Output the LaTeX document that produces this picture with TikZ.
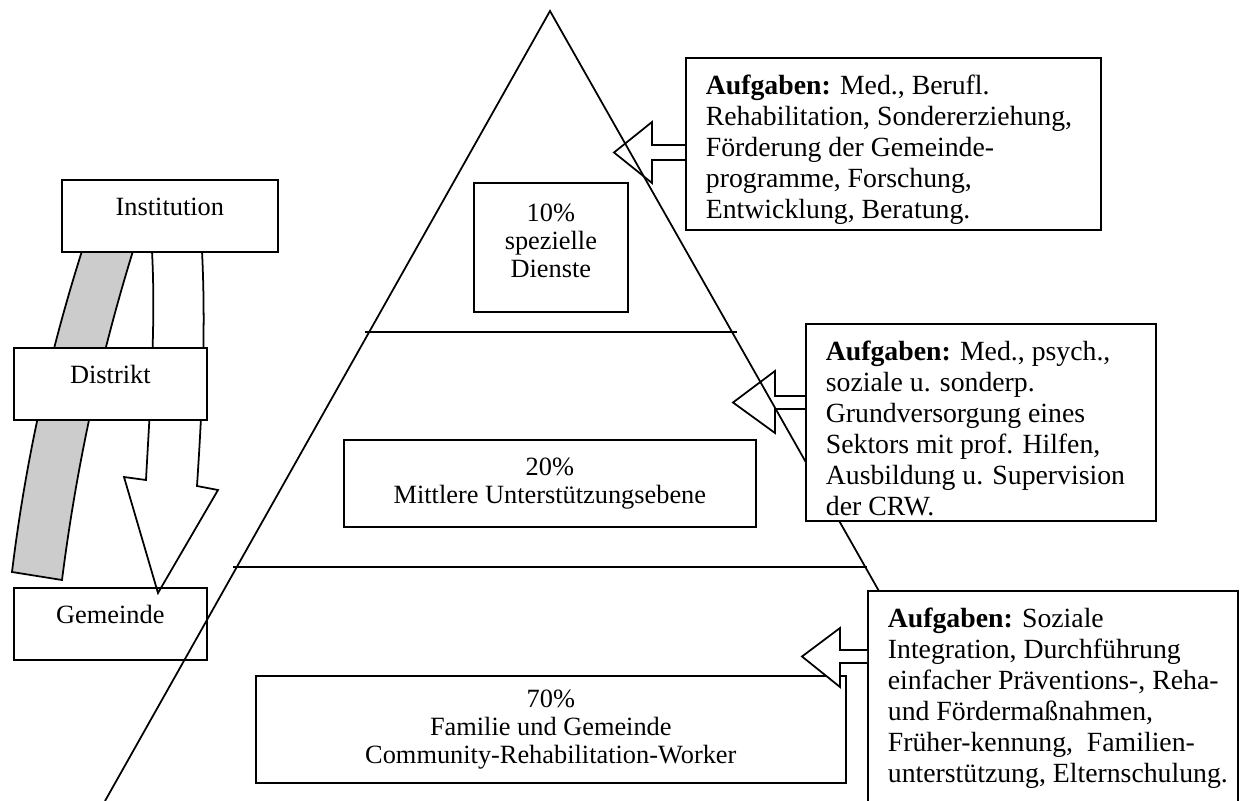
\documentclass[tikz,border=0pt]{standalone}
\usepackage{fontspec}
\setmainfont{Liberation Serif}
\tikzset{
  levelbox/.style={draw, fill=white, anchor=north west, inner sep=0pt, text height=0.72cm, text depth=0.72cm},
  tierbox/.style={draw, fill=white, anchor=north west, inner sep=0pt, align=center},
  taskbox/.style={draw, fill=white, anchor=north west, inner sep=0pt},
  tasktext/.style={anchor=north west, inner sep=0pt, align=left, font=\fontsize{15.8}{17.6}\selectfont},
  hollow/.style={draw, fill=white, line join=miter}
}
\begin{document}
\begin{tikzpicture}[x=0.02cm, y=-0.02cm, line width=1pt, font=\fontsize{15}{15.9}\selectfont]
\useasboundingbox (0,0) rectangle (1242,801);
\clip (0,0) rectangle (1242,801);
% left: levels
\fill[black!20] (82,251) .. controls (48,358) and (25,465) .. (12,572) -- (62,580)
  .. controls (76,470) and (99,361) .. (133,251) -- cycle;
\draw (82,251) .. controls (48,358) and (25,465) .. (12,572) -- (62,580)
  .. controls (76,470) and (99,361) .. (133,251);
\draw[hollow] (152,251) .. controls (156,327) and (150,405) .. (146,480) -- (124,477)
  -- (158,593) -- (218,490) -- (197,486) .. controls (202,410) and (206,330) .. (202,251) -- cycle;
\node[levelbox, minimum width=4.32cm] (inst) at (61,179) {Institution};
\node[levelbox, minimum width=3.86cm] (dist) at (13,347) {Distrikt};
\node[levelbox, minimum width=3.86cm, fill=none] (gem) at (13,587) {Gemeinde};
% pyramid
\coordinate (apex) at (550,11);
\draw (105,801) -- (apex) -- (998,801);
\draw (365,332) -- (737,332);
\draw (233,567) -- (867,567);
\node[tierbox, minimum width=3.08cm, minimum height=2.58cm] (p10) at (473,182) {10\%\\spezielle\\Dienste\rule[-0.28cm]{0pt}{0pt}};
\node[tierbox, minimum width=8.24cm, minimum height=1.74cm] (p20) at (343,439) {20\%\\Mittlere Unterstützungsebene};
% tasks
\node[taskbox, minimum width=8.3cm, minimum height=3.44cm] (task1) at (685,57) {};
\node[taskbox, minimum width=7cm, minimum height=3.94cm] (task2) at (805,323) {};
\node[taskbox, minimum width=7.4cm, minimum height=5.2cm] (task3) at (867,590) {};
\node[tasktext] (task1txt) at ([shift={(20,17)}]task1.north west)
  {\textbf{Aufgaben:} Med., Berufl.\\Rehabilitation, Sondererziehung,\\Förderung der Gemeinde-\\programme, Forschung,\\Entwicklung, Beratung.};
\node[tasktext] (task2txt) at ([shift={(20,17)}]task2.north west)
  {\textbf{Aufgaben:} Med., psych.,\\soziale u. sonderp.\\Grundversorgung eines\\Sektors mit prof. Hilfen,\\Ausbildung u. Supervision\\der CRW.};
\node[tasktext] (task3txt) at ([shift={(20,17)}]task3.north west)
  {\textbf{Aufgaben:} Soziale\\Integration, Durchführung\\einfacher Präventions-, Reha-\\und Fördermaßnahmen,\\Früher-kennung,\ \ Familien-\\unterstützung, Elternschulung.};
\draw[hollow, fill=none] (task1.west |- 0,145) -- (652,145) -- (652,122) -- (614,152.5)
  -- (652,183) -- (652,160) -- (task1.west |- 0,160);
\draw[hollow, fill=none] (task2.west |- 0,396) -- (775,396) -- (775,371) -- (733,402.5)
  -- (775,433) -- (775,409) -- (task2.west |- 0,409);
\node[tierbox, minimum width=11.8cm, minimum height=2.14cm] (p70) at (255,675) {70\%\\Familie und Gemeinde\\Community-Rehabilitation-Worker};
\draw[hollow] (task3.west |- 0,650) -- (840,650) -- (840,628) -- (802,656.5)
  -- (840,687) -- (840,663) -- (task3.west |- 0,663);
\end{tikzpicture}
\end{document}
